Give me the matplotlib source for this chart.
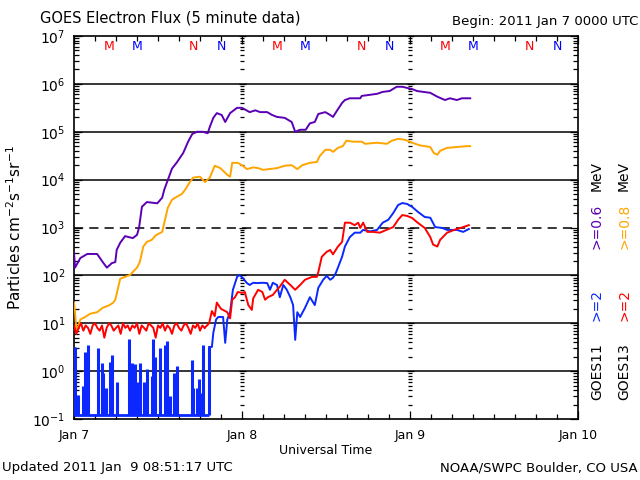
import numpy as np
import matplotlib
matplotlib.use("Agg")
import matplotlib.pyplot as plt

# hours since 2011 Jan 7 00:00 UT, flux in particles cm-2 s-1 sr-1
g11_06_t = [0.0, 0.15, 0.9, 1.9, 3.3, 4.1, 4.7, 5.4, 5.9, 6.1, 6.6, 7.3, 8.4, 9.0, 9.3, 9.7,
            10.4, 11.9, 12.6, 12.9, 13.4, 14.0, 14.7, 15.6, 16.3, 16.9, 17.6, 18.4, 19.1,
            19.4, 19.9, 20.4, 21.1, 21.6, 22.3, 23.3, 24.0, 25.1, 25.9, 26.6, 27.6, 28.3,
            29.0, 30.1, 31.1, 31.6, 32.3, 33.1, 33.7, 34.4, 34.9, 35.9, 36.6, 37.0, 37.6,
            38.3, 38.7, 39.4, 40.9, 41.1, 43.3, 44.1, 45.1, 46.1, 46.9, 48.3, 49.0, 49.9,
            50.9, 51.9, 53.0, 53.7, 54.7, 55.4, 56.6]
g11_06_f = [300, 145, 230, 280, 280, 190, 145, 180, 190, 340, 480, 660, 600, 700, 1000, 2700,
            3400, 3200, 4200, 6200, 9800, 17000, 23000, 36000, 62000, 90000, 100000, 100000,
            93000, 126000, 195000, 245000, 224000, 160000, 245000, 316000, 316000, 257000,
            280000, 257000, 257000, 224000, 204000, 195000, 160000, 100000, 110000, 110000,
            150000, 160000, 235000, 257000, 224000, 204000, 280000, 400000, 460000, 500000,
            500000, 560000, 620000, 680000, 710000, 870000, 870000, 780000, 710000, 680000,
            650000, 540000, 460000, 500000, 460000, 500000, 500000]

g13_08_t = [0.0, 0.15, 0.35, 0.55, 0.9, 1.6, 2.3, 3.3, 4.1, 5.1, 5.6, 5.9, 6.6, 8.0, 9.0, 9.4,
            9.9, 10.4, 11.1, 11.7, 12.6, 13.0, 13.4, 14.0, 14.7, 15.4, 15.9, 16.3, 17.0, 18.0,
            18.7, 19.4, 20.1, 20.9, 21.9, 22.3, 22.6, 23.4, 24.1, 24.7, 25.6, 26.3, 27.0,
            29.0, 30.1, 31.1, 31.9, 32.6, 33.7, 34.7, 35.1, 35.9, 36.6, 37.0, 37.7, 38.4,
            38.9, 39.9, 41.1, 41.6, 43.3, 44.7, 45.4, 46.3, 47.3, 48.3, 49.4, 50.9, 51.4,
            51.9, 52.3, 53.3, 54.7, 56.1, 56.6]
g13_08_f = [27, 17, 7, 8, 12, 13.5, 15.8, 17, 21, 24, 27, 31, 85, 102, 145, 190,
            400, 500, 550, 690, 810, 1450, 2570, 3800, 4400, 5000, 6200, 7800, 11000, 11500,
            8900, 11000, 19500, 17400, 12600, 11500, 22400, 22400, 19500, 16600, 18000, 17400,
            16000, 17400, 19500, 20000, 16600, 20000, 22400, 23400, 31000, 42000, 42000,
            38000, 46000, 50000, 65000, 62000, 62000, 56000, 59000, 56000, 65000, 71000,
            68000, 59000, 52000, 48000, 36000, 33000, 40000, 46000, 48000, 50000, 50000]

# GOES13 >=2 MeV, quiet noisy part (every 20 min, 0-18.7 h) then the rise
g13_2_quiet = [9, 6, 8, 10, 7, 9, 8, 6, 9, 10, 8, 7, 9, 5, 8, 10, 9, 7, 8, 9, 6, 10, 8, 9, 7,
               9, 8, 10, 6, 9, 8, 7, 10, 9, 8, 5, 9, 8, 10, 7, 9, 8, 6, 9, 10, 8, 7, 9, 10, 8,
               6, 9, 8, 10, 7, 9, 8]
g13_2_t = [19.3, 19.7, 20.1, 20.4, 21.0, 21.9, 22.3, 22.6, 23.0, 23.4, 24.0, 24.4, 24.9, 25.4,
           25.6, 26.3, 26.9, 27.3, 27.7, 28.4, 29.0, 29.4, 30.1, 30.9, 31.6, 32.3, 33.0, 34.0,
           34.7, 34.9, 35.4, 36.1, 36.6, 37.0, 37.7, 38.3, 38.7, 39.4, 40.1, 40.6, 40.9, 41.3,
           41.9, 42.7, 43.7, 44.7, 45.6, 46.3, 46.9, 47.6, 48.3, 49.1, 50.1, 50.9, 51.3, 51.9,
           52.3, 53.3, 54.4, 55.6, 56.4]
g13_2_f = [10, 18, 14, 27, 20, 17, 12.6, 31, 35, 45, 43, 45, 24, 19, 33, 50, 45, 31, 35, 39,
           50, 58, 81, 63, 50, 63, 81, 93, 93, 117, 245, 310, 340, 275, 400, 500, 1260, 1260,
           1120, 1260, 980, 1260, 810, 810, 780, 900, 1020, 1450, 1820, 1740, 1580, 1260, 980,
           630, 440, 400, 550, 780, 900, 1020, 1120]

# GOES11 >=2 MeV: early spikes above the 0.1 floor, then the continuous rise
g11_2_spike_t = [0.0, 0.15, 0.57, 1.29, 1.57, 2.0, 3.43, 4.0, 4.14, 4.57, 5.14, 5.43, 6.14,
                 7.86, 8.29, 8.71, 9.0, 9.43, 10.0, 10.43, 11.14, 11.29, 11.57, 12.29, 13.0,
                 13.29, 13.71, 14.29, 14.71, 16.86, 17.0, 17.57, 17.86, 18.29, 18.43, 19.29]
g11_2_spike_f = [3.2, 3.2, 0.32, 0.5, 2.5, 3.5, 3.1, 1.5, 0.9, 0.45, 1.55, 2.2, 0.6,
                 4.7, 1.5, 1.4, 0.6, 1.5, 0.6, 1.1, 0.8, 4.7, 2.0, 3.0, 3.5,
                 4.3, 0.3, 0.9, 1.3, 1.7, 0.45, 0.45, 0.7, 0.35, 3.5, 3.2]
g11_2_floor = 0.12
g11_2_t = [19.3, 19.7, 19.9, 20.3, 20.6, 21.3, 21.6, 21.9, 22.3, 22.7, 23.3, 23.6, 24.1, 24.7,
           25.1, 25.6, 26.1, 26.9, 27.6, 28.0, 28.4, 29.0, 29.4, 29.9, 30.4, 30.9, 31.3, 31.6,
           31.9, 32.3, 33.0, 33.7, 34.4, 34.9, 35.6, 36.1, 36.6, 37.0, 37.4, 37.7, 38.3, 38.7,
           39.4, 40.1, 40.9, 41.3, 42.3, 43.3, 44.1, 44.9, 45.6, 46.3, 46.9, 47.6, 48.3, 49.1,
           50.1, 50.9, 51.6, 52.6, 53.3, 54.7, 55.6, 56.4]
g11_2_f = [3.2, 3.2, 6.3, 12, 13.5, 13.5, 3.9, 12, 17, 50, 93, 102, 89, 69,
           63, 70, 69, 70, 69, 50, 70, 63, 35, 63, 50, 35, 24, 4.5,
           17, 13.5, 21, 35, 24, 55, 81, 98, 81, 89, 112, 145, 245, 400,
           630, 780, 780, 890, 830, 890, 1260, 1450, 2000, 2950, 3240, 3100, 2700, 2140,
           1660, 1600, 1020, 980, 890, 890, 810, 930]

day_labels = ["Jan 7", "Jan 8", "Jan 9", "Jan 10"]
decades = [-1, 0, 1, 2, 3, 4, 5, 6, 7]
local_marks = [(5, "M", "red"), (9, "M", "blue"), (17, "N", "red"), (21, "N", "blue")]

purple = "#5b00b4"
orange = "#ffa500"
red = "#ff0000"
blue = "#0a28ff"

fig = plt.figure(figsize=(6.4, 4.8), dpi=100)
ax = fig.add_axes([74/640, 1-419/480, 504/640, 383/480])
ax.set_yscale("log")
ax.set_xlim(0, 72)
ax.set_ylim(1e-1, 1e7)

# horizontal reference lines
for d in decades[1:-1]:
    ax.axhline(10.0**d, color="black", lw=1.1, ls=(0, (6, 4)) if d == 3 else "-", zorder=1)

# minor tick columns at the day boundaries
minors = [k * 10.0**n for n in range(-1, 7) for k in range(2, 10)]
for day in (24, 48):
    ax.hlines(minors, day - 0.35, day + 0.35, color="black", lw=0.9, zorder=1)
    ax.hlines([10.0**d for d in decades], day - 0.5, day + 0.5, color="black", lw=0.9, zorder=1)

lw = 1.4
ax.plot(g11_06_t, g11_06_f, color=purple, lw=lw, zorder=3)
ax.plot(g13_08_t, g13_08_f, color=orange, lw=lw, zorder=3)
ax.hlines(g11_2_floor, 0, 19.3, color=blue, lw=2, zorder=3)
ax.vlines(g11_2_spike_t, g11_2_floor, g11_2_spike_f, color=blue, lw=2.2, zorder=3)
ax.plot(g11_2_t, g11_2_f, color=blue, lw=lw, zorder=4)
quiet_t = np.arange(len(g13_2_quiet)) / 3.0
ax.plot(quiet_t, g13_2_quiet, color=red, lw=lw, zorder=4)
ax.plot([quiet_t[-1]] + g13_2_t, [g13_2_quiet[-1]] + g13_2_f, color=red, lw=lw, zorder=4)

# ticks
ax.set_xticks([0, 24, 48, 72])
ax.set_xticklabels(day_labels, fontsize=9)
ax.set_xticks(np.arange(0, 73, 3), minor=True)
ax.set_yticks([10.0**d for d in decades])
ax.set_yticklabels(["$10^{%d}$" % d for d in decades], fontsize=10)
ax.yaxis.set_minor_locator(matplotlib.ticker.LogLocator(base=10, subs=np.arange(2, 10), numticks=20))
ax.yaxis.set_minor_formatter(matplotlib.ticker.NullFormatter())
ax.tick_params(which="both", direction="in", top=True, right=True, width=0.9)
ax.tick_params(which="major", length=6, pad=6)
ax.tick_params(which="minor", length=3.5)
ax.tick_params(axis="x", which="major", pad=7)
for s in ax.spines.values():
    s.set_linewidth(1.2)

for h, letter, c in local_marks:
    for day in range(3):
        ax.text(day * 24 + h, 0.972, letter, color=c, fontsize=9, ha="center", va="center",
                transform=ax.get_xaxis_transform())

ax.set_xlabel("Universal Time", fontsize=9, labelpad=2)
fig.text(15/640, 1-228/480, "Particles cm$^{-2}$s$^{-1}$sr$^{-1}$", rotation=90,
         fontsize=11, ha="center", va="center")

fig.text(40/640, 1-18/480, "GOES Electron Flux (5 minute data)", fontsize=10.5, va="center")
fig.text(638/640, 1-22/480, "Begin: 2011 Jan 7 0000 UTC", fontsize=9.5, va="center", ha="right")
fig.text(2/640, 1-468/480, "Updated 2011 Jan  9 08:51:17 UTC", fontsize=9.5, va="center")
fig.text(638/640, 1-468/480, "NOAA/SWPC Boulder, CO USA", fontsize=9.5, va="center", ha="right")

# right side legend, rotated
for xp, sat, lo, clo, hi, chi in [(597, "GOES11", ">=2", blue, ">=0.6", purple),
                                  (624, "GOES13", ">=2", red, ">=0.8", orange)]:
    fig.text(xp/640, 1-372/480, sat, rotation=90, fontsize=10, ha="center", va="center")
    fig.text(xp/640, 1-305/480, lo, rotation=90, fontsize=10, ha="center", va="center", color=clo)
    fig.text(xp/640, 1-226/480, hi, rotation=90, fontsize=10, ha="center", va="center", color=chi)
    fig.text(xp/640, 1-176/480, "MeV", rotation=90, fontsize=10, ha="center", va="center")

fig.savefig("out.png", dpi=100)
